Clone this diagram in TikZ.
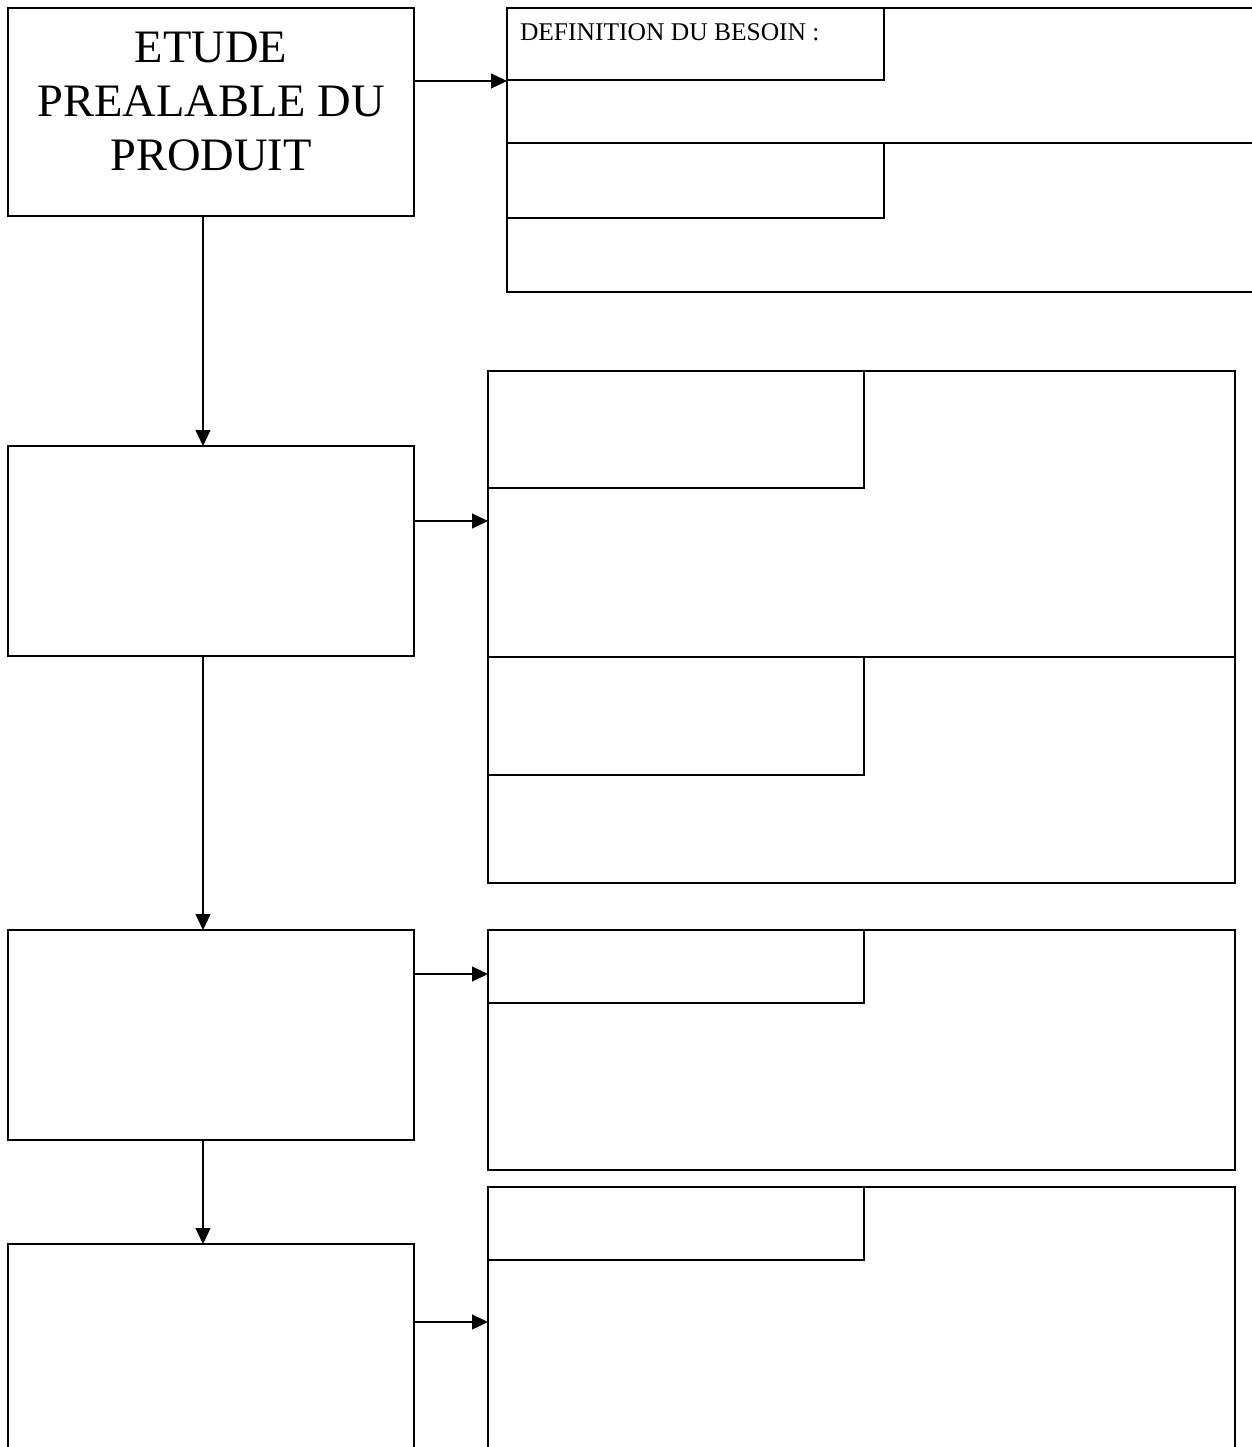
\documentclass[tikz,border=0pt]{standalone}
\usepackage{fontspec}
\setmainfont{Liberation Serif}
\usetikzlibrary{positioning,arrows.meta}

\begin{document}
\begin{tikzpicture}[x=1pt,y=-1pt]
	\tikzset{box/.style={draw,line width=1.8pt,inner sep=0pt,outer sep=0pt,minimum width=406pt,minimum height=210pt}}
	\tikzset{panel/.style={draw,line width=1.8pt,inner sep=0pt,outer sep=0pt,minimum width=747pt}}
	\tikzset{tab/.style={draw,line width=1.8pt,inner sep=0pt,outer sep=0pt,anchor=north west,minimum width=376pt}}
	\tikzset{flow/.style={line width=1.2pt,-{Triangle[length=16pt,width=15pt]}}}
	\useasboundingbox (0,0) rectangle (1251,1447);
	% left column
	\node[box,minimum height=208pt] (etude) at (211,112) {};
	\node[box] (phase2) at (211,551) {};
	\node[box] (phase3) at (211,1035) {};
	\node[box] (phase4) at (211,1349) {};
	\node[align=center,inner sep=0pt,outer sep=0pt,font=\fontsize{46.5}{54}\selectfont,below=24.5pt of etude.north] (etudetext) {ETUDE\\PREALABLE DU\\PRODUIT};
	% right column
	\node[panel,minimum width=760pt,minimum height=284pt] (grp1) at (887,150) {};
	\node[panel,minimum height=512pt] (grp2) at (861.5,627) {};
	\node[panel,minimum height=240pt] (grp3) at (861.5,1050) {};
	\node[panel,minimum height=276pt] (grp4) at (861.5,1325) {};
	\coordinate (cut1) at (507,143);
	\coordinate (cut2) at (488,657);
	\draw[line width=1.8pt] (cut1) -- (cut1 -| grp1.east);
	\draw[line width=1.8pt] (cut2) -- (cut2 -| grp2.east);
	\node[tab,minimum width=377pt,minimum height=72pt] (besoin) at (grp1.north west) {};
	\node[tab,minimum width=377pt,minimum height=75pt] (tab1b) at (cut1) {};
	\node[tab,minimum height=117pt] (tab2a) at (grp2.north west) {};
	\node[tab,minimum height=118pt] (tab2b) at (cut2) {};
	\node[tab,minimum height=73pt] (tab3) at (grp3.north west) {};
	\node[tab,minimum height=73pt] (tab4) at (grp4.north west) {};
	\node[inner sep=0pt,outer sep=0pt,anchor=north west,font=\fontsize{25.5}{30}\selectfont,below right=15.3pt and 13pt of besoin.north west] (besointext) {DEFINITION DU BESOIN :};
	% connectors
	\foreach \a/\b in {etude/phase2,phase2/phase3,phase3/phase4}
		\draw[flow] ([xshift=-8pt]\a.south) -- ([xshift=-8pt]\b.north);
	\foreach \a/\g/\dy in {etude/grp1/31,phase2/grp2/30,phase3/grp3/61,phase4/grp4/27}
		\draw[flow] ([yshift=\dy pt]\a.east) -- ([yshift=\dy pt]\a.east -| \g.west);
\end{tikzpicture}
\end{document}
